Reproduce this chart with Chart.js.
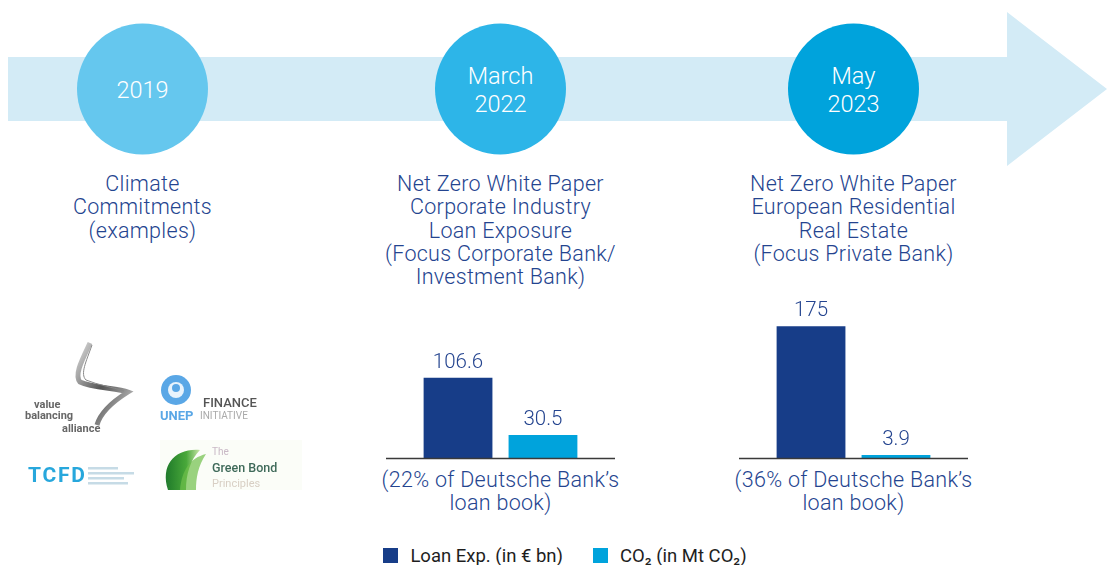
<!DOCTYPE html>
<html>
<head>
<meta charset="utf-8">
<script src="https://cdn.jsdelivr.net/npm/chart.js@4.4.0/dist/chart.umd.min.js"></script>
<style>
  body { margin: 0; width: 1107px; height: 565px; overflow: hidden; background: #fff; position: relative; font-family: Roboto, "Noto Sans", sans-serif; color: #24448f; }
  .abs { position: absolute; }
  .caption { position: absolute; width: 340px; text-align: center; font-size: 21.5px; line-height: 23.3px; font-weight: 300; letter-spacing: 0.3px; }
  .chartBox { position: absolute; width: 229px; height: 170px; top: 290px; }
  .legend { position: absolute; top: 545px; left: 0; width: 1130px; text-align: center; font-size: 18.5px; color: #1e1e1e; white-space: nowrap; }
  .legend span.item { display: inline-block; margin: 0 15px; }
  .legend span.sw { display: inline-block; width: 15px; height: 15px; vertical-align: -1px; margin-right: 12px; }
  .logos { filter: blur(0.6px); }
</style>
</head>
<body>

<svg class="abs" style="left:0;top:0" width="1107" height="200">
  <polygon points="8,57 1007,57 1007,12 1107,89 1007,166 1007,121 8,121" fill="#d3ebf6"/>
  <circle cx="142.5" cy="89" r="65.5" fill="#65c7ee"/>
  <circle cx="500.5" cy="89" r="65.5" fill="#2db5e8"/>
  <circle cx="853.5" cy="89" r="65.5" fill="#00a3dc"/>
  <g fill="#fff" font-family="Roboto, sans-serif" font-weight="300" font-size="23.5" text-anchor="middle">
    <text x="142.5" y="97.5">2019</text>
    <text x="500.5" y="84">March</text>
    <text x="500.5" y="112">2022</text>
    <text x="853.5" y="84">May</text>
    <text x="853.5" y="112">2023</text>
  </g>
</svg>

<div class="caption" style="left:-27.5px;top:172px">Climate<br>Commitments<br>(examples)</div>
<div class="caption" style="left:330.5px;top:172px">Net Zero White Paper<br>Corporate Industry<br>Loan Exposure<br>(Focus Corporate Bank/<br>Investment Bank)</div>
<div class="caption" style="left:683.5px;top:172px">Net Zero White Paper<br>European Residential<br>Real Estate<br>(Focus Private Bank)</div>

<div class="logos abs" style="left:0;top:330px;width:320px;height:170px">
  <svg width="320" height="170">
    <defs>
      <linearGradient id="vba" x1="0" y1="0" x2="1" y2="1">
        <stop offset="0" stop-color="#ddd"/><stop offset="0.5" stop-color="#555"/><stop offset="1" stop-color="#ccc"/>
      </linearGradient>
      <linearGradient id="leaf" x1="0" y1="0" x2="1" y2="0">
        <stop offset="0" stop-color="#1f7a2a"/><stop offset="0.6" stop-color="#49a83a"/><stop offset="1" stop-color="#c9e6a8"/>
      </linearGradient>
    </defs>
    <path d="M90,13 C82,30 74,45 80,52 C92,58 118,58 128,62 C112,72 100,84 97,95" stroke="url(#vba)" stroke-width="5" fill="none"/>
    <path d="M92,15 C86,32 80,44 86,50 C98,55 112,57 124,61" stroke="#888" stroke-width="1" fill="none"/>
    <g fill="#666" font-family="Roboto, sans-serif" font-weight="700" font-size="11">
      <text x="34" y="78">value</text>
      <text x="25" y="89">balancing</text>
      <text x="62" y="102">alliance</text>
    </g>
    <circle cx="176" cy="60" r="15" fill="#5aa7e6"/>
    <circle cx="176" cy="60" r="8" fill="#e8f3fc"/>
    <circle cx="176" cy="58" r="4" fill="#5aa7e6"/>
    <text x="203" y="77" fill="#555" font-family="Roboto, sans-serif" font-size="13" font-weight="500">FINANCE</text>
    <text x="160" y="90" fill="#5aa7e6" font-family="Roboto, sans-serif" font-size="13" font-weight="700">UNEP</text>
    <text x="200" y="89" fill="#aaa" font-family="Roboto, sans-serif" font-size="10" font-weight="400">INITIATIVE</text>
    <text x="28" y="152" fill="#27a7dc" font-family="Roboto, sans-serif" font-size="21" font-weight="700" textLength="57">TCFD</text>
    <g fill="#c6dbe6">
      <rect x="88" y="137" width="30" height="2.5"/>
      <rect x="88" y="142" width="46" height="2.5"/>
      <rect x="88" y="147" width="36" height="2.5"/>
      <rect x="88" y="152" width="40" height="2.5"/>
    </g>
    <rect x="160" y="110" width="142" height="50" fill="#fbfdf8"/>
    <path d="M168,160 C160,135 175,118 200,120 C190,130 186,145 186,160 Z" fill="url(#leaf)"/>
    <path d="M180,160 C182,140 190,128 206,124 C198,136 196,148 196,160 Z" fill="#6fbf4a" opacity="0.7"/>
    <text x="212" y="125" fill="#c9b9c6" font-family="Roboto, sans-serif" font-size="10">The</text>
    <text x="212" y="142" fill="#3f6a5a" font-family="Roboto, sans-serif" font-size="12.5" font-weight="500">Green Bond</text>
    <text x="212" y="157" fill="#d8cfc4" font-family="Roboto, sans-serif" font-size="11">Principles</text>
  </svg>
</div>

<div class="chartBox" style="left:386px"><canvas id="chart0"></canvas></div>
<div class="chartBox" style="left:739px"><canvas id="chart1"></canvas></div>

<div class="caption" style="left:330.5px;top:468px">(<span class="share0"></span> of Deutsche Bank’s<br>loan book)</div>
<div class="caption" style="left:683.5px;top:468px">(<span class="share1"></span> of Deutsche Bank’s<br>loan book)</div>

<div class="legend" id="legend"></div>

<script>
const periods = ['March 2022', 'May 2023'];
const loanExposure = [106.6, 175];
const co2Emissions = [30.5, 3.9];
const loanBookShare = ['22%', '36%'];
const seriesNames = ['Loan Exp. (in € bn)', 'CO₂ (in Mt CO₂)'];
const seriesColors = ['#173d88', '#00a3dc'];

const valueLabels = {
  id: 'valueLabels',
  afterDatasetsDraw(chart) {
    const ctx = chart.ctx;
    ctx.save();
    ctx.font = '300 20.5px Roboto, sans-serif';
    ctx.fillStyle = '#24448f';
    ctx.textAlign = 'center';
    ctx.textBaseline = 'alphabetic';
    chart.data.datasets.forEach((ds, i) => {
      chart.getDatasetMeta(i).data.forEach((bar, j) => {
        ctx.fillText(String(ds.data[j]), bar.x, bar.y - 10);
      });
    });
    // baseline
    const area = chart.chartArea;
    ctx.strokeStyle = '#3a3a3a';
    ctx.lineWidth = 1.6;
    ctx.beginPath();
    ctx.moveTo(area.left, area.bottom + 0.5);
    ctx.lineTo(area.right, area.bottom + 0.5);
    ctx.stroke();
    ctx.restore();
  }
};

periods.forEach((period, i) => {
  document.querySelector('.share' + i).textContent = loanBookShare[i];
  new Chart(document.getElementById('chart' + i), {
    type: 'bar',
    data: {
      labels: [period],
      datasets: [
        { label: seriesNames[0], data: [loanExposure[i]], backgroundColor: seriesColors[0] },
        { label: seriesNames[1], data: [co2Emissions[i]], backgroundColor: seriesColors[1] }
      ]
    },
    options: {
      responsive: true,
      maintainAspectRatio: false,
      animation: false,
      layout: { padding: { left: 0, right: 0, top: 0, bottom: 2 } },
      categoryPercentage: 0.742,
      barPercentage: 0.81,
      plugins: { legend: { display: false }, tooltip: { enabled: false } },
      scales: {
        x: { display: false },
        y: { display: false, min: 0, max: 223 }
      }
    },
    plugins: [valueLabels]
  });
});

let $legend = document.getElementById('legend');
seriesNames.forEach((name, i) => {
  let $item = document.createElement('span');
  $item.className = 'item';
  $item.innerHTML = '<span class="sw" style="background:' + seriesColors[i] + '"></span>' + name;
  $legend.append($item);
});
</script>
</body>
</html>
